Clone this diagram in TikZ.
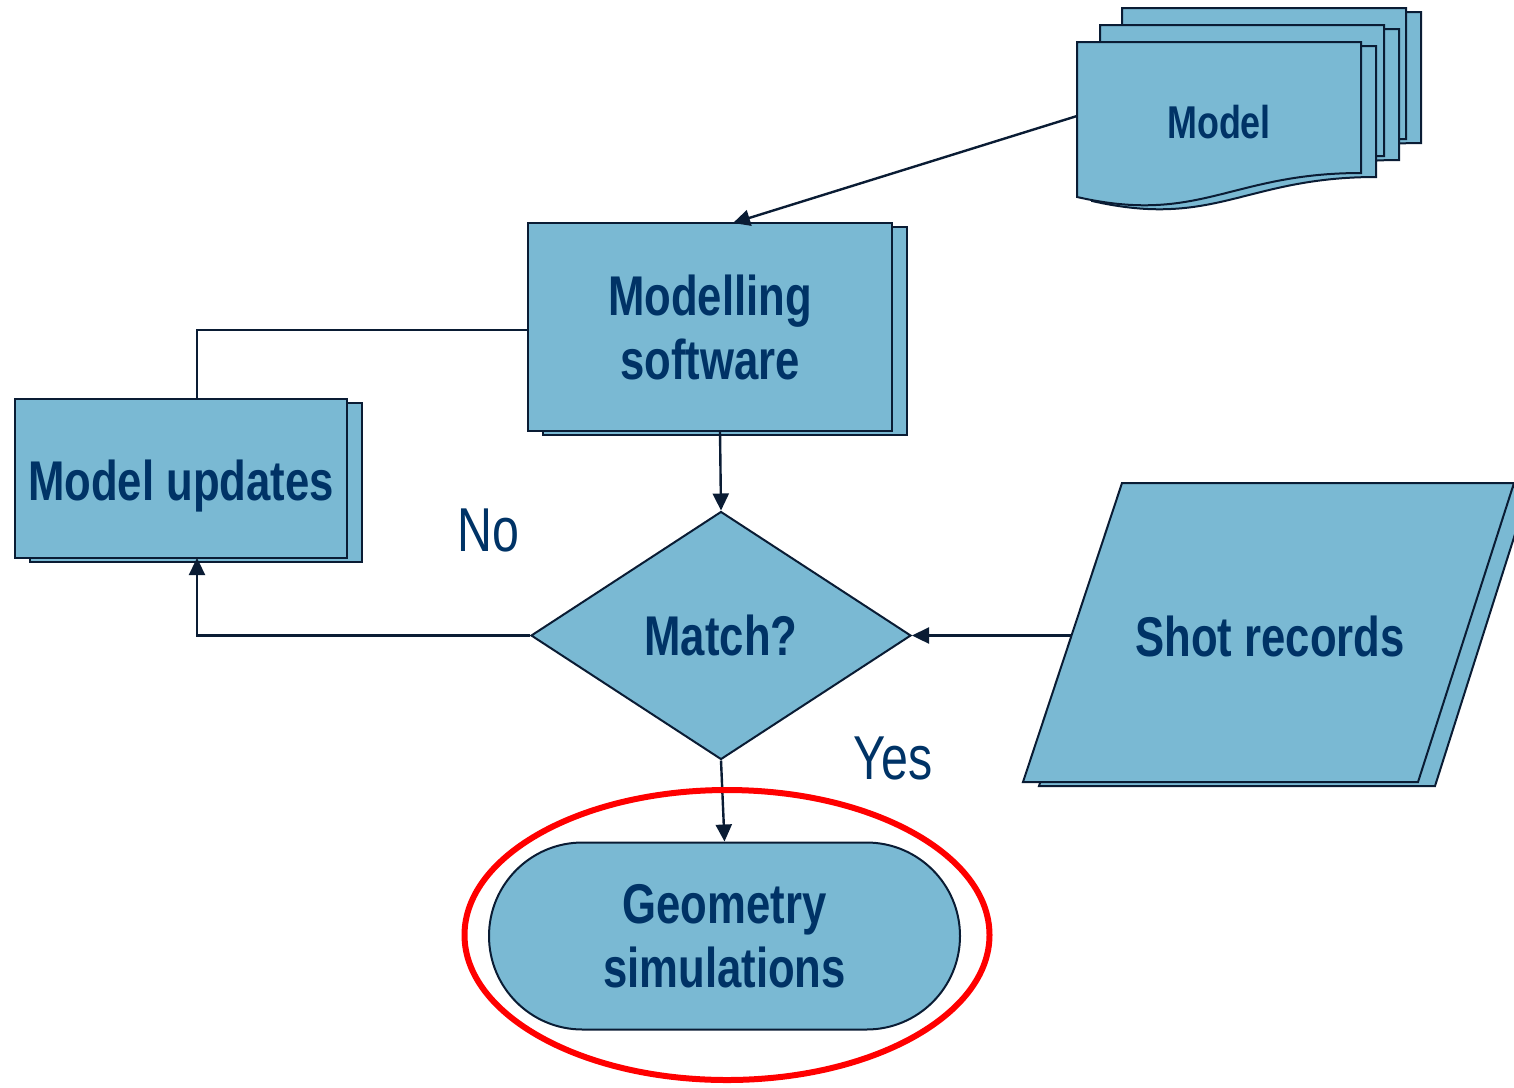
\documentclass[tikz,border=0pt]{standalone}
\usepackage{fontspec}
\setmainfont{Liberation Sans}[FakeStretch=0.78]
\usetikzlibrary{shapes.geometric,shadows,arrows.meta,calc}
\definecolor{boxfill}{RGB}{122,185,211}
\definecolor{edge}{RGB}{10,28,52}
\definecolor{txt}{RGB}{0,51,102}
\tikzset{
  box/.style={draw=edge, fill=boxfill, line width=1pt},
  shad/.style={copy shadow={shadow xshift=7.5pt, shadow yshift=-2pt}},
  boxtxt/.style={text=txt, font=\fontsize{28}{32}\selectfont\bfseries, align=center},
  lbl/.style={text=txt, font=\fontsize{31}{34}\selectfont},
  conn/.style={draw=edge, line width=1.2pt},
  arr/.style={conn, -{Triangle[length=8.5pt,width=8pt]}}
}
\begin{document}
\begin{tikzpicture}[x=0.5pt,y=-0.5pt]
\useasboundingbox (0,0) rectangle (1514,1087);
\clip (0,0) rectangle (1514,1087);

% Model document stack
\foreach \dx/\dy in {45/-34, 23/-17, 0/0} {
  \path[box, shift={(\dx+15,\dy+4)}] (1077,42) -- (1361,42) -- (1361,173)
     .. controls (1230,173) and (1200,225) .. (1077,197) -- cycle;
  \path[box, shift={(\dx,\dy)}] (1077,42) -- (1361,42) -- (1361,173)
     .. controls (1230,173) and (1200,225) .. (1077,197) -- cycle;
}
\node[text=txt, font=\fontsize{23}{28}\selectfont\bfseries] (model) at (1219,122) {Model};
\coordinate (modelout) at (1077,116);

% Modelling software
\node[box, shad, boxtxt, minimum width=182pt, minimum height=104pt, inner sep=0pt] (sw) at (710,327) {Modelling\\software};
\coordinate (swin) at (733,223);
\coordinate (swleft) at (528,330);
\coordinate (swout) at (720,431);

% Model updates
\node[box, shad, boxtxt, minimum width=166pt, minimum height=79.5pt, inner sep=0pt, text height=21.5pt, text depth=0pt] (mu) at (181,478.5) {Model updates};
\coordinate (mutop) at (197,399);
\coordinate (mubot) at (197,558);

% Decision
\node[box, diamond, boxtxt, minimum width=190pt, minimum height=124pt, inner sep=0pt] (match) at (721,635.5) {Match?};

% Shot records
\path[box] (1138,487) -- (1530,487) -- (1435,786) -- (1039,786) -- cycle;
\path[box] (1122,483) -- (1514,483) -- (1418,782) -- (1023,782) -- cycle;
\node[boxtxt] (shot) at (1270,636) {Shot records};
\coordinate (shotout) at (1072,635.5);

% Geometry simulations
\node[box, boxtxt, rectangle, rounded corners=46.75pt, minimum width=235.5pt, minimum height=93.5pt, inner sep=0pt] (geo) at (724.5,936) {Geometry\\simulations};

% Labels
\node[lbl] (no) at (488,530) {No};
\node[lbl] (yes) at (893,758) {Yes};

% Connectors
\draw[arr] (modelout) -- (swin);
\draw[conn] (swleft) -| (mutop);
\draw[arr] (swout) -- (match.north);
\draw[arr] (match.west) -| (mubot);
\draw[arr] (shotout) -- (match.east);
\draw[arr] (match.south) -- (geo.north);

% Highlight
\draw[red, line width=3pt] (727,935) ellipse [x radius=131.25pt, y radius=72.5pt];
\end{tikzpicture}
\end{document}
